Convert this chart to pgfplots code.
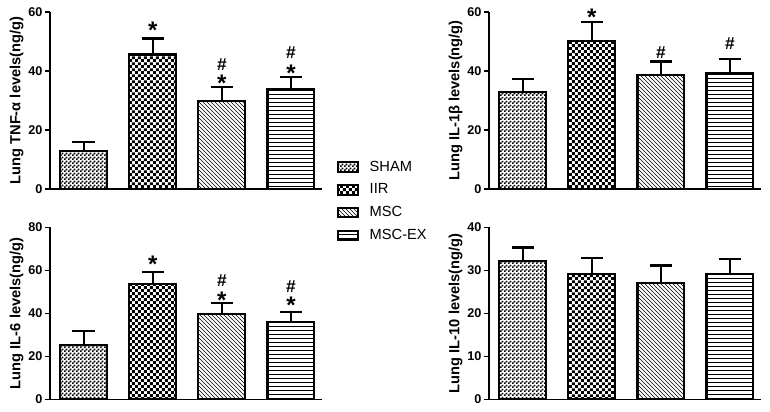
\documentclass[border=0pt]{standalone}
\usepackage{pgfplots}
\pgfplotsset{compat=1.18}
\usepackage{fontspec}
\setmainfont{Liberation Sans}
\usetikzlibrary{patterns}

% fill patterns of the four groups
\pgfdeclarepatternformonly{finechk}{\pgfpointorigin}{\pgfqpoint{3pt}{3pt}}{\pgfqpoint{3pt}{3pt}}{%
  \pgfpathrectangle{\pgfpointorigin}{\pgfqpoint{1.5pt}{1.5pt}}%
  \pgfpathrectangle{\pgfqpoint{1.5pt}{1.5pt}}{\pgfqpoint{1.5pt}{1.5pt}}%
  \pgfusepath{fill}}
\pgfdeclarepatternformonly{chk}{\pgfpointorigin}{\pgfqpoint{4.4pt}{4.4pt}}{\pgfqpoint{4.4pt}{4.4pt}}{%
  \pgfpathrectangle{\pgfpointorigin}{\pgfqpoint{2.2pt}{2.2pt}}%
  \pgfpathrectangle{\pgfqpoint{2.2pt}{2.2pt}}{\pgfqpoint{2.2pt}{2.2pt}}%
  \pgfusepath{fill}}

\pgfplotsset{
  panel/.style={
    scale only axis, width=204pt,
    xmin=-0.49, xmax=3.45, ymin=0,
    axis x line*=bottom, axis y line*=left,
    axis line style={line width=1.1pt, -},
    xtick=\empty,
    ytick style={line width=1.1pt, black},
    tick align=outside, major tick length=3.5pt,
    /pgf/number format/assume math mode=true,
    yticklabel style={font=\bfseries\fontsize{9.5}{11}\selectfont, inner xsep=2pt},
    every axis y label/.style={at={(axis description cs:-0.123,0.5)}, rotate=90, anchor=center,
      font=\bfseries\fontsize{11}{12}\selectfont},
    ybar, bar width=0.68, bar shift=0pt,
    every axis plot/.append style={draw=black, line width=1.6pt},
    error bars/y dir=plus, error bars/y explicit,
    error bars/error bar style={line width=1.6pt},
    error bars/error mark options={rotate=90, mark size=8.5pt, line width=1.6pt},
    clip=false,
  },
  sham/.style={pattern=finechk},
  iir/.style={pattern=chk},
  msc/.style={pattern=north west lines},
  mscex/.style={pattern=horizontal lines},
}
\tikzset{
  hash/.style={font=\bfseries\fontsize{13}{13}\selectfont, inner sep=0pt},
  star/.style={font=\bfseries\fontsize{18}{18}\selectfont, inner sep=0pt, yshift=-3.9pt},
}

\begin{document}
\begin{tikzpicture}
\path[use as bounding box] (0,0) rectangle (577.5pt,308.25pt);

% TNF-alpha
\begin{axis}[panel, at={(37.5pt,166.5pt)}, anchor=south west,
  height=132.75pt, ymax=60, ytick={0,20,40,60},
  ylabel={Lung TNF-α levels(ng/g)},
  legend style={at={(rel axis cs:1.04,0.19)}, anchor=north west, draw=none, fill=none,
    font=\fontsize{11}{12}\selectfont, row sep=4pt,
    /tikz/every odd column/.append style={column sep=6pt}},
  legend cell align=left,
  legend image code/.code={\draw[#1, line width=1.4pt] (0pt,-3.5pt) rectangle (15pt,3.5pt);}]
\addplot[sham]  coordinates {(0,13.0) +- (0,3.0)};
\addplot[iir]   coordinates {(1,45.6) +- (0,5.4)};
\addplot[msc]   coordinates {(2,29.9) +- (0,4.8)};
\addplot[mscex] coordinates {(3,33.8) +- (0,4.2)};
\legend{SHAM,IIR,MSC,MSC-EX}
\node[star] at (axis cs:1,55.6) {*};
\node[hash] at (axis cs:2,42.3) {\#};
\node[star] at (axis cs:2,37.6) {*};
\node[hash] at (axis cs:3,46.4) {\#};
\node[star] at (axis cs:3,41.1) {*};
\end{axis}

% IL-1beta
\begin{axis}[panel, at={(366.75pt,166.5pt)}, anchor=south west,
  height=132.75pt, ymax=60, ytick={0,20,40,60},
  ylabel={Lung IL-1β levels(ng/g)}]
\addplot[sham]  coordinates {(0,33.0) +- (0,4.2)};
\addplot[iir]   coordinates {(1,50.2) +- (0,6.3)};
\addplot[msc]   coordinates {(2,38.6) +- (0,4.6)};
\addplot[mscex] coordinates {(3,39.2) +- (0,4.8)};
\node[star] at (axis cs:1,59.9) {*};
\node[hash] at (axis cs:2,46.4) {\#};
\node[hash] at (axis cs:3,49.3) {\#};
\end{axis}

% IL-6
\begin{axis}[panel, at={(37.5pt,8.8pt)}, anchor=south west,
  height=129pt, ymax=80, ytick={0,20,40,60,80},
  ylabel={Lung IL-6 levels(ng/g)}]
\addplot[sham]  coordinates {(0,25.4) +- (0,6.5)};
\addplot[iir]   coordinates {(1,53.6) +- (0,5.6)};
\addplot[msc]   coordinates {(2,39.8) +- (0,4.9)};
\addplot[mscex] coordinates {(3,35.8) +- (0,4.8)};
\node[star] at (axis cs:1,65.3) {*};
\node[hash] at (axis cs:2,55.0) {\#};
\node[star] at (axis cs:2,48.5) {*};
\node[hash] at (axis cs:3,52.4) {\#};
\node[star] at (axis cs:3,46.0) {*};
\end{axis}

% IL-10
\begin{axis}[panel, at={(366.75pt,8.8pt)}, anchor=south west,
  height=129pt, ymax=40, ytick={0,10,20,30,40},
  ylabel={Lung IL-10 levels(ng/g)}]
\addplot[sham]  coordinates {(0,32.2) +- (0,3.1)};
\addplot[iir]   coordinates {(1,29.1) +- (0,3.8)};
\addplot[msc]   coordinates {(2,27.1) +- (0,4.0)};
\addplot[mscex] coordinates {(3,29.1) +- (0,3.5)};
\end{axis}
\end{tikzpicture}
\end{document}
